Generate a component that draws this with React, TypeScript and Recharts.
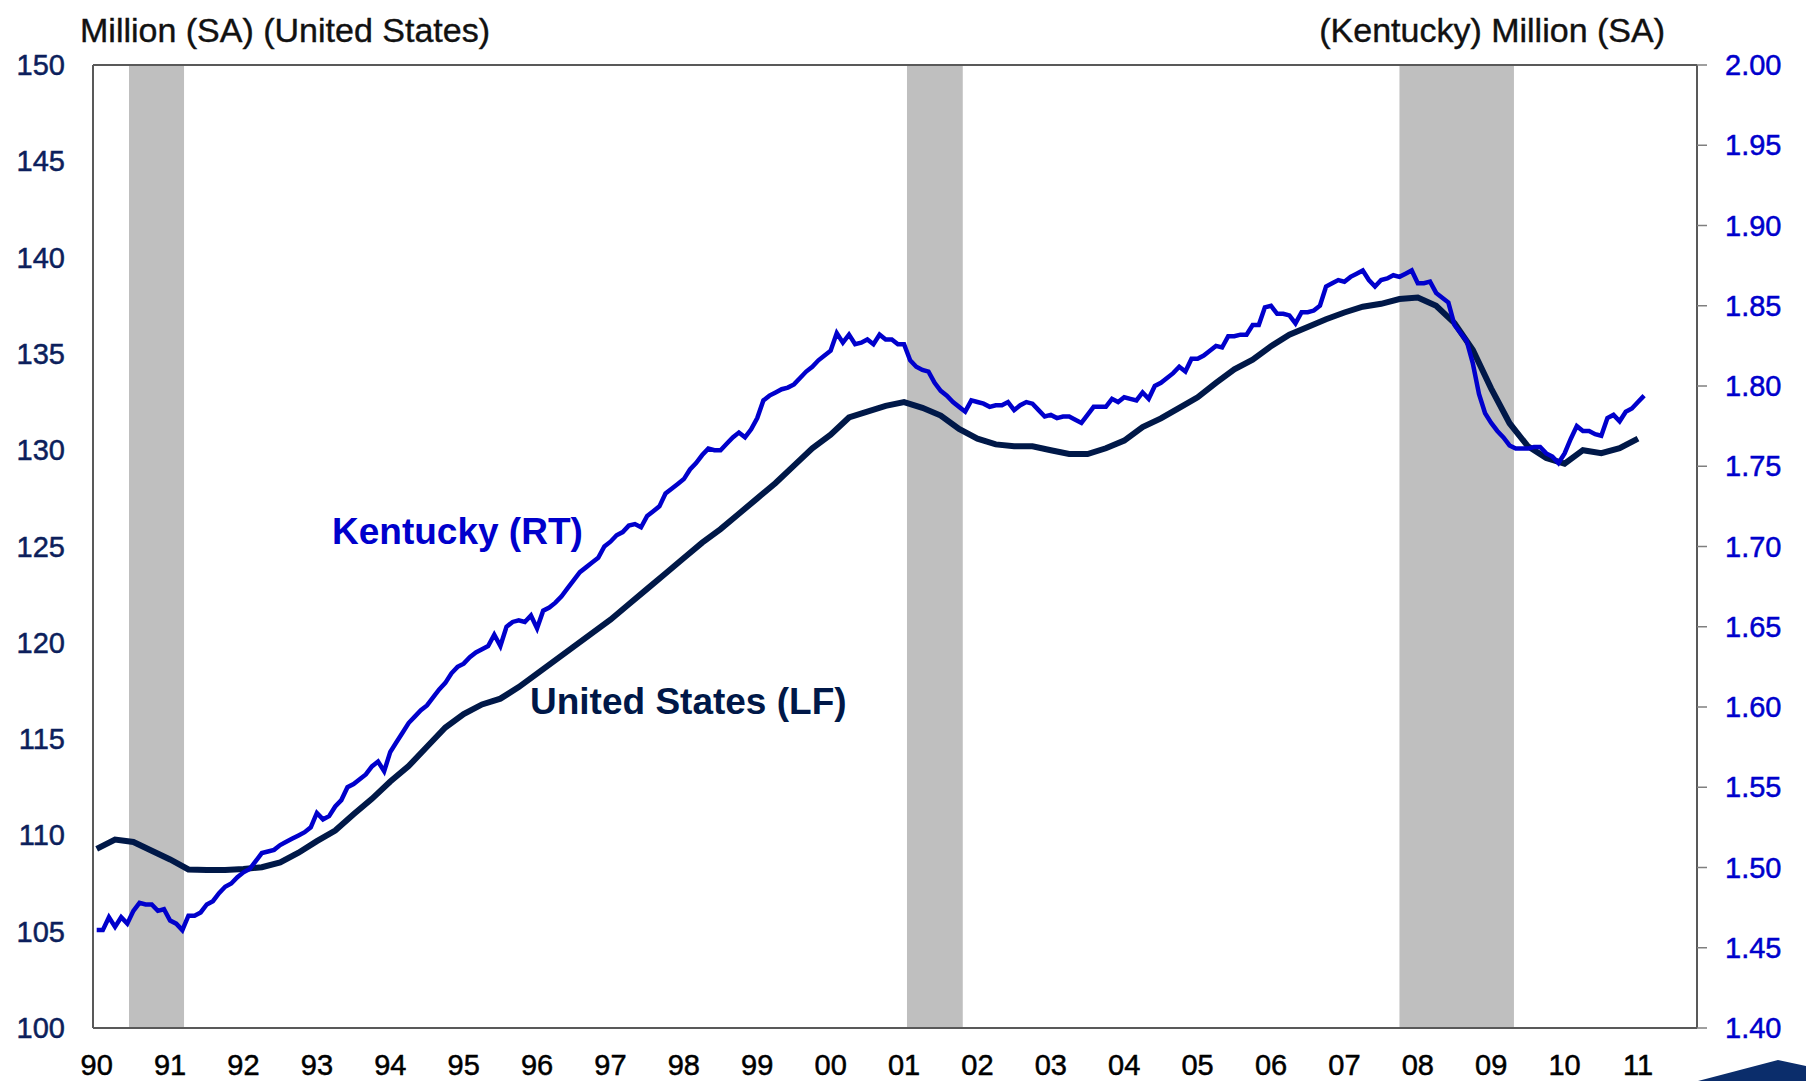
import React from 'react';
import { LineChart, Line, XAxis, YAxis, ReferenceArea, ReferenceLine } from 'recharts';

// US payrolls (left axis, millions), quarterly from Q1 1990
const usStart = 1990;
const usJobs = [
  109.3, 109.78, 109.66, 109.2,
  108.75, 108.23, 108.2, 108.2,
  108.25, 108.35, 108.6, 109.1,
  109.7, 110.25, 111.1, 111.9,
  112.8, 113.6, 114.6, 115.6,
  116.3, 116.8, 117.1, 117.7,
  118.4, 119.1, 119.8, 120.5,
  121.2, 122.0, 122.8, 123.6,
  124.4, 125.2, 125.9, 126.7,
  127.5, 128.3, 129.2, 130.1,
  130.8, 131.7, 132.0, 132.3,
  132.5, 132.2, 131.8, 131.1,
  130.6, 130.3, 130.2, 130.2,
  130.0, 129.8, 129.8, 130.1,
  130.5, 131.2, 131.65, 132.2,
  132.75, 133.5, 134.2, 134.7,
  135.4, 136.0, 136.4, 136.8,
  137.15, 137.45, 137.6, 137.85,
  137.93, 137.5, 136.6, 135.2,
  133.2, 131.4, 130.2, 129.6,
  129.3, 130.0, 129.85, 130.1,
  130.6,
];

// Kentucky payrolls (right axis, millions), monthly from Jan 1990
const kyStart = 1990;
const kyJobs = [
  1.461, 1.461, 1.469, 1.463, 1.469, 1.465, 1.473, 1.478, 1.477, 1.477, 1.473, 1.474,
  1.467, 1.465, 1.461, 1.470, 1.470, 1.472, 1.477, 1.479, 1.484, 1.488, 1.490, 1.494,
  1.497, 1.499, 1.504, 1.509, 1.510, 1.511, 1.514, 1.516, 1.518, 1.520, 1.522, 1.525,
  1.534, 1.530, 1.532, 1.538, 1.542, 1.550, 1.552, 1.555, 1.558, 1.563, 1.566, 1.560,
  1.572, 1.578, 1.584, 1.590, 1.594, 1.598, 1.601, 1.606, 1.611, 1.615, 1.621, 1.625,
  1.627, 1.631, 1.634, 1.636, 1.638, 1.645, 1.638, 1.650, 1.653, 1.654, 1.653, 1.657,
  1.649, 1.660, 1.662, 1.665, 1.669, 1.674, 1.679, 1.684, 1.687, 1.690, 1.693, 1.700,
  1.703, 1.707, 1.709, 1.713, 1.714, 1.712, 1.719, 1.722, 1.725, 1.733, 1.736, 1.739,
  1.742, 1.748, 1.752, 1.757, 1.761, 1.760, 1.760, 1.764, 1.768, 1.771, 1.768, 1.773,
  1.780, 1.791, 1.794, 1.796, 1.798, 1.799, 1.801, 1.805, 1.809, 1.812, 1.816, 1.819,
  1.822, 1.833, 1.827, 1.832, 1.826, 1.827, 1.829, 1.826, 1.832, 1.829, 1.829, 1.826,
  1.826, 1.816, 1.812, 1.810, 1.809, 1.802, 1.797, 1.794, 1.790, 1.787, 1.784, 1.791,
  1.790, 1.789, 1.787, 1.788, 1.788, 1.790, 1.785, 1.788, 1.790, 1.789, 1.785, 1.781,
  1.782, 1.780, 1.781, 1.781, 1.779, 1.777, 1.782, 1.787, 1.787, 1.787, 1.792, 1.790,
  1.793, 1.792, 1.791, 1.796, 1.792, 1.800, 1.802, 1.805, 1.808, 1.812, 1.809, 1.817,
  1.817, 1.819, 1.822, 1.825, 1.824, 1.831, 1.831, 1.832, 1.832, 1.838, 1.838, 1.849,
  1.850, 1.845, 1.845, 1.844, 1.839, 1.846, 1.846, 1.847, 1.850, 1.862, 1.864, 1.866,
  1.865, 1.868, 1.870, 1.872, 1.866, 1.862, 1.866, 1.867, 1.869, 1.868, 1.870, 1.872,
  1.864, 1.864, 1.865, 1.858, 1.855, 1.852, 1.838, 1.833, 1.828, 1.814, 1.795, 1.783,
  1.777, 1.772, 1.768, 1.763, 1.761, 1.761, 1.761, 1.762, 1.762, 1.758, 1.756, 1.752,
  1.758, 1.767, 1.775, 1.772, 1.772, 1.770, 1.769, 1.780, 1.782, 1.778, 1.784, 1.786,
  1.790, 1.794,
];

// recession bands (start, end) as drawn
const recessions = [
  [1990.44, 1991.19],
  [2001.04, 2001.80],
  [2007.75, 2009.31],
];

const yearTicks = [
  1990, 1991, 1992, 1993, 1994, 1995, 1996, 1997, 1998, 1999, 2000,
  2001, 2002, 2003, 2004, 2005, 2006, 2007, 2008, 2009, 2010, 2011,
];
const leftTicks = [100, 105, 110, 115, 120, 125, 130, 135, 140, 145, 150];
const rightTicks = [1.4, 1.45, 1.5, 1.55, 1.6, 1.65, 1.7, 1.75, 1.8, 1.85, 1.9, 1.95, 2.0];

const usData = usJobs.map((v, i) => ({ t: usStart + i / 4, v }));
const kyData = kyJobs.map((v, i) => ({ t: kyStart + i / 12, v }));

const W = 1806;
const H = 1081;
const FONT = '"Liberation Sans", Arial, sans-serif';
const FRAME = '#595959';
const NAVY = '#001848';
const BLUE = '#0000CC';

const LeftTick = ({ y, payload }: any) => (
  <text x={65} y={y + 10} textAnchor="end" fontFamily={FONT} fontSize={29}
    fill="#0C1F5C" stroke="#0C1F5C" strokeWidth={0.5}>
    {payload.value}
  </text>
);

const RightTick = ({ y, payload }: any) => (
  <text x={1725} y={y + 10} textAnchor="start" fontFamily={FONT} fontSize={29}
    fill={BLUE} stroke={BLUE} strokeWidth={0.5}>
    {Number(payload.value).toFixed(2)}
  </text>
);

const YearTick = ({ x, payload }: any) => (
  <text x={x} y={1075} textAnchor="middle" fontFamily={FONT} fontSize={29}
    fill="#000" stroke="#000" strokeWidth={0.5}>
    {String(payload.value).slice(2)}
  </text>
);

export default function App() {
  return (
    <div style={{ position: 'absolute', left: 0, top: 0, width: W, height: H, background: '#fff' }}>
      <LineChart width={W} height={H} margin={{ top: 65, right: 0, bottom: 0, left: 0 }}>
        <XAxis
          dataKey="t"
          type="number"
          domain={[1989.9496, 2011.804]}
          allowDataOverflow
          ticks={yearTicks}
          interval={0}
          height={53}
          tickLine={false}
          axisLine={{ stroke: FRAME, strokeWidth: 2 }}
          tick={<YearTick />}
        />
        <YAxis
          yAxisId="left"
          domain={[100, 150]}
          ticks={leftTicks}
          interval={0}
          width={93}
          tickLine={false}
          axisLine={{ stroke: FRAME, strokeWidth: 2 }}
          tick={<LeftTick />}
        />
        <YAxis
          yAxisId="right"
          orientation="right"
          domain={[1.4, 2.0]}
          ticks={rightTicks}
          interval={0}
          width={109}
          tickSize={10}
          tickLine={{ stroke: '#7f7f7f', strokeWidth: 1.5 }}
          axisLine={{ stroke: FRAME, strokeWidth: 2 }}
          tick={<RightTick />}
        />
        {recessions.map(([a, b], i) => (
          <ReferenceArea key={i} yAxisId="left" x1={a} x2={b} fill="#BFBFBF" fillOpacity={1} stroke="none" />
        ))}
        <ReferenceLine yAxisId="left" y={150} stroke={FRAME} strokeWidth={2} />
        <Line
          yAxisId="left"
          data={usData}
          dataKey="v"
          type="linear"
          stroke={NAVY}
          strokeWidth={6}
          dot={false}
          isAnimationActive={false}
        />
        <Line
          yAxisId="right"
          data={kyData}
          dataKey="v"
          type="linear"
          stroke={BLUE}
          strokeWidth={4.5}
          dot={false}
          isAnimationActive={false}
        />
      </LineChart>
      <svg width={W} height={H} style={{ position: 'absolute', left: 0, top: 0, pointerEvents: 'none' }}>
        <text x={80} y={42} fontFamily={FONT} fontSize={34} fill="#111" stroke="#111" strokeWidth={0.4}>
          Million (SA) (United States)
        </text>
        <text x={1665} y={42} textAnchor="end" fontFamily={FONT} fontSize={34} fill="#111" stroke="#111" strokeWidth={0.4}>
          (Kentucky) Million (SA)
        </text>
        <text x={332} y={544} fontFamily={FONT} fontSize={37} fontWeight="bold" fill={BLUE}>
          Kentucky (RT)
        </text>
        <text x={530} y={714} fontFamily={FONT} fontSize={37} fontWeight="bold" fill={NAVY}>
          United States (LF)
        </text>
        <polygon points="1698,1081 1778,1060 1806,1066 1806,1081" fill="#0B2D6B" />
      </svg>
    </div>
  );
}
